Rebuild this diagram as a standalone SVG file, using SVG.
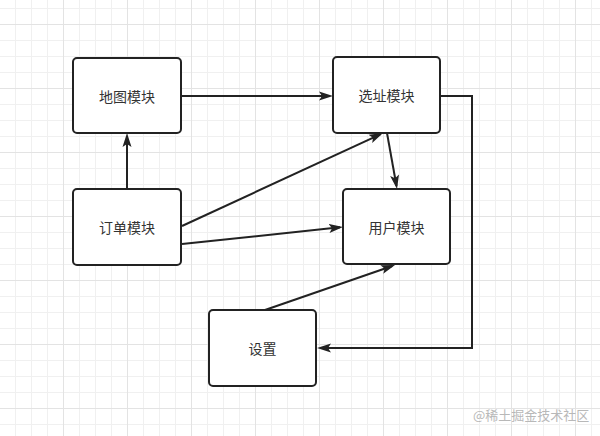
<svg xmlns="http://www.w3.org/2000/svg" width="600" height="436" viewBox="0 0 600 436">
<style>
.node rect{fill:#fff;stroke:#222;stroke-width:2}
.node text{font-family:"Noto Sans CJK SC","Noto Sans",sans-serif;font-size:14px;fill:#333;text-anchor:middle;dominant-baseline:central}
.edge{fill:none;stroke:#222;stroke-width:2;marker-end:url(#arr)}
.wm{font-family:"Noto Sans CJK SC","Noto Sans",sans-serif;font-size:13px;fill:#b8b8b8}
</style>
<defs>
<pattern id="minor" x="15" y="8" width="16" height="16" patternUnits="userSpaceOnUse">
<path d="M0.5 0V16M0 0.5H16" stroke="#f0f0f0" stroke-width="1" fill="none"/>
</pattern>
<pattern id="major" x="63" y="24" width="64" height="64" patternUnits="userSpaceOnUse">
<path d="M0.5 0V64M0 0.5H64" stroke="#e3e3e3" stroke-width="1" fill="none"/>
</pattern>
<marker id="arr" markerUnits="userSpaceOnUse" markerWidth="14" markerHeight="10" refX="11" refY="4.5" orient="auto" viewBox="0 0 14 9">
<path d="M0 0L14 4.5L0 9L3 4.5Z" fill="#222"/>
</marker>
</defs>
<rect width="600" height="436" fill="#fff"/>
<rect width="600" height="436" fill="url(#minor)"/>
<rect width="600" height="436" fill="url(#major)"/>
<g id="connectors">
<path class="edge" d="M181 96H330"/>
<path class="edge" d="M127 189V136"/>
<path class="edge" d="M182 226L380.3 134.3"/>
<path class="edge" d="M182 244L340 227.3"/>
<path class="edge" d="M387 133L396.5 186"/>
<path class="edge" d="M265 310L392.2 266"/>
<path class="edge" d="M440 96H472V348H320"/>
</g>
<g id="map" class="node"><rect x="73" y="58" width="108" height="75" rx="4"/><text x="127" y="96">地图模块</text></g>
<g id="site" class="node"><rect x="333" y="57" width="107" height="76" rx="4"/><text x="386.5" y="95">选址模块</text></g>
<g id="order" class="node"><rect x="73" y="189" width="108" height="76" rx="4"/><text x="127" y="227">订单模块</text></g>
<g id="user" class="node"><rect x="343" y="189" width="107" height="75" rx="4"/><text x="396.5" y="227">用户模块</text></g>
<g id="settings" class="node"><rect x="209" y="310" width="107" height="76" rx="4"/><text x="262.5" y="348">设置</text></g>
<text class="wm" x="473" y="420">@稀土掘金技术社区</text>
</svg>
